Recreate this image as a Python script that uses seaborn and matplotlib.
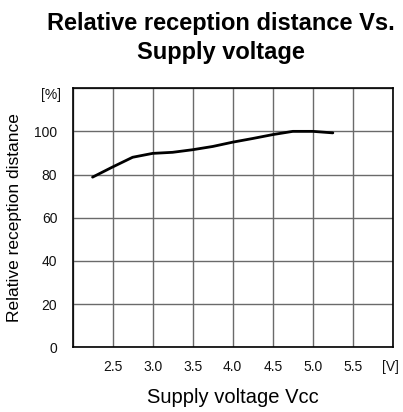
import pandas as pd
import seaborn as sns
import matplotlib.pyplot as plt

# Data
voltage = [2.25, 2.5, 2.75, 3.0, 3.25, 3.5, 3.75, 4.0, 4.25, 4.5, 4.75, 5.0, 5.25]
distance = [78.8, 83.5, 88.0, 89.8, 90.3, 91.5, 93.0, 95.0, 96.7, 98.5, 100.0, 100.0, 99.3]

x_ticks = [2.5, 3.0, 3.5, 4.0, 4.5, 5.0, 5.5]
y_ticks = [0, 20, 40, 60, 80, 100]

df = pd.DataFrame({'voltage': voltage, 'distance': distance})

sns.set_style('white')
plt.rcParams['font.family'] = ['Liberation Sans', 'DejaVu Sans']
plt.rcParams['text.color'] = 'black'
plt.rcParams['axes.labelcolor'] = 'black'

fig = plt.figure(figsize=(4.03, 4.12), dpi=100)
ax = fig.add_axes([0.180, 0.157, 0.795, 0.629])

sns.lineplot(data=df, x='voltage', y='distance', color='black', linewidth=2.0, ax=ax)

ax.set_xlim(2.0, 6.0)
ax.set_ylim(0, 120)
ax.set_xticks([2.0, 2.5, 3.0, 3.5, 4.0, 4.5, 5.0, 5.5, 6.0])
ax.set_xticklabels([''] + [f'{v:.1f}' for v in x_ticks] + [''])
ax.set_yticks(y_ticks + [120])
ax.set_yticklabels([str(v) for v in y_ticks] + [''])
ax.tick_params(axis='both', length=0, labelsize=10, colors='#111111')
ax.tick_params(axis='x', pad=9)
ax.tick_params(axis='y', pad=11)
ax.grid(True, color='#6a6a6a', linewidth=1.0)
for s in ax.spines.values():
    s.set_visible(True)
    s.set_color('black')
    s.set_linewidth(1.2)

# unit labels at the ends of the axes
ax.annotate('[%]', xy=(0, 120), xycoords=('axes fraction', 'data'),
            xytext=(-8, 0), textcoords='offset points',
            ha='right', va='top', fontsize=10, color='#111111')
ax.annotate('[V]', xy=(1, 0), xycoords=('axes fraction', 'data'),
            xytext=(-2, -9), textcoords='offset points',
            ha='center', va='top', fontsize=10, color='#111111')

ax.set_xlabel('Supply voltage Vcc', fontsize=14.5, labelpad=10)
ax.set_ylabel('Relative reception distance', fontsize=12.5, labelpad=9)

fig.text(0.549, 0.907, 'Relative reception distance Vs.\nSupply voltage',
         ha='center', va='center', fontsize=17, fontweight='bold',
         linespacing=1.35)

fig.savefig('out.png', dpi=100)
